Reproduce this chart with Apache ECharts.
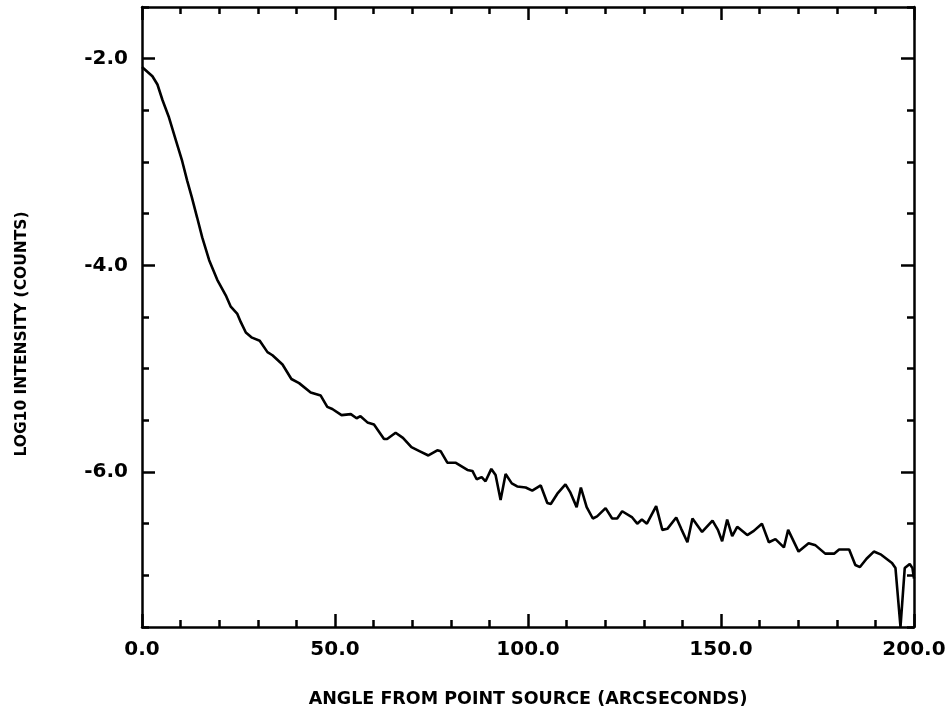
<!DOCTYPE html>
<html>
<head>
<meta charset="utf-8">
<script src="https://cdn.jsdelivr.net/npm/echarts@6/dist/echarts.min.js"></script>
<style>
    html, body { margin: 0; padding: 0; background: #fff; }
    #main { width: 952px; height: 711px; }
</style>
</head>
<body>
<div id="main"></div>
<script>
// angle from point source (arcsec) and log10 intensity
var angles = [
    0, 2.7, 4.0, 5.3, 7.0, 8.7, 10.4, 11.7, 12.9, 14.3,
    15.6, 17.4, 19.5, 21.7, 23.0, 24.7, 25.6, 26.9, 28.5, 30.5,
    32.5, 33.8, 36.4, 38.7, 40.7, 43.7, 46.3, 48.0, 49.3, 51.7,
    54.1, 55.6, 56.6, 58.4, 60.1, 62.7, 63.5, 65.7, 67.6, 69.8,
    72.0, 74.2, 76.5, 77.4, 79.1, 81.2, 84.3, 85.6, 86.7, 88.0,
    89.0, 90.5, 91.6, 92.9, 94.2, 95.8, 97.2, 99.4, 101.1, 103.3,
    105.0, 105.9, 107.6, 109.7, 111.0, 112.6, 113.7, 115.2, 116.8, 117.9,
    120.1, 121.8, 123.1, 124.4, 127.0, 128.3, 129.5, 130.8, 133.2, 134.8,
    136.1, 138.4, 139.7, 141.3, 142.6, 145.1, 147.8, 149.2, 150.3, 151.6,
    152.9, 154.2, 156.8, 158.5, 160.6, 162.4, 164.1, 166.3, 167.4, 170.1,
    172.7, 174.5, 177.0, 179.3, 180.6, 183.2, 184.8, 186.0, 187.7, 189.6,
    191.5, 194.3, 195.2, 196.5, 197.6, 198.9, 199.6, 200.0
];
var logIntensity = [
    -2.08, -2.17, -2.25, -2.40, -2.57, -2.78, -2.99, -3.18, -3.34, -3.54,
    -3.73, -3.95, -4.14, -4.29, -4.40, -4.47, -4.55, -4.65, -4.70, -4.73,
    -4.84, -4.87, -4.96, -5.10, -5.14, -5.23, -5.26, -5.37, -5.39, -5.45,
    -5.44, -5.48, -5.46, -5.52, -5.54, -5.68, -5.68, -5.62, -5.67, -5.76,
    -5.80, -5.84, -5.79, -5.80, -5.91, -5.91, -5.98, -5.99, -6.07, -6.05,
    -6.09, -5.97, -6.03, -6.27, -6.02, -6.11, -6.14, -6.15, -6.18, -6.13,
    -6.30, -6.31, -6.21, -6.12, -6.20, -6.34, -6.15, -6.34, -6.45, -6.43,
    -6.35, -6.45, -6.45, -6.38, -6.44, -6.50, -6.46, -6.50, -6.33, -6.56,
    -6.55, -6.44, -6.55, -6.68, -6.45, -6.58, -6.47, -6.56, -6.67, -6.46,
    -6.62, -6.53, -6.61, -6.57, -6.50, -6.68, -6.65, -6.73, -6.56, -6.77,
    -6.69, -6.71, -6.79, -6.79, -6.75, -6.75, -6.90, -6.92, -6.84, -6.77,
    -6.80, -6.88, -6.93, -7.50, -6.93, -6.89, -6.93, -7.03
];
var yLabelValues = [-6, -4, -2];

var myChart = echarts.init(document.getElementById('main'));

var labelFont = {
    color: '#000',
    fontFamily: 'DejaVu Sans',
    fontWeight: 'bold',
    fontSize: 20
};
var lineStyle = { color: '#000', width: 2.5 };

function xAxisOf(pos, withLabels) {
    return {
        type: 'value',
        position: pos,
        min: 0,
        max: 200,
        interval: 50,
        axisLine: { show: true, lineStyle: lineStyle },
        axisTick: { show: true, inside: true, length: 13, lineStyle: { color: '#000', width: 2.5 } },
        minorTick: { show: true, splitNumber: 5, length: 7, lineStyle: { color: '#000', width: 2.5 } },
        splitLine: { show: false },
        axisLabel: Object.assign({
            show: withLabels,
            margin: 13,
            formatter: function (v) { return v.toFixed(1); }
        }, labelFont)
    };
}

function yAxisOf(pos, major, withLabels) {
    var ax = {
        type: 'value',
        position: pos,
        min: -7.5,
        max: -1.5,
        interval: 0.5,
        axisLine: { show: !major, lineStyle: lineStyle },
        axisTick: { show: true, inside: true, length: major ? 13 : 7, lineStyle: { color: '#000', width: 2.5 } },
        splitLine: { show: false },
        axisLabel: { show: false }
    };
    if (major) {
        ax.axisTick.customValues = yLabelValues;
    }
    if (withLabels) {
        ax.axisLabel = Object.assign({
            show: true,
            margin: 14,
            customValues: yLabelValues,
            formatter: function (v) { return v.toFixed(1); }
        }, labelFont);
        ax.name = 'LOG10 INTENSITY (COUNTS)';
        ax.nameLocation = 'middle';
        ax.nameGap = 112;
        ax.nameTextStyle = {
            color: '#000', fontFamily: 'DejaVu Sans', fontWeight: 'bold', fontSize: 15.5,
            padding: [0, 34, 0, 0]
        };
    }
    return ax;
}

var xBottom = xAxisOf('bottom', true);
xBottom.name = 'ANGLE FROM POINT SOURCE (ARCSECONDS)';
xBottom.nameLocation = 'middle';
xBottom.nameGap = 63;
xBottom.nameTextStyle = { color: '#000', fontFamily: 'DejaVu Sans', fontWeight: 'bold', fontSize: 17.5 };

var option = {
    backgroundColor: '#fff',
    animation: false,
    grid: { left: 142, right: 38, top: 7, bottom: 84, containLabel: false, outerBoundsMode: 'none' },
    xAxis: [xBottom, xAxisOf('top', false)],
    yAxis: [
        yAxisOf('left', false, true),
        yAxisOf('left', true, false),
        yAxisOf('right', false, false),
        yAxisOf('right', true, false)
    ],
    series: [
        {
            type: 'line',
            xAxisIndex: 0,
            yAxisIndex: 0,
            showSymbol: false,
            lineStyle: { color: '#000', width: 2.6 },
            data: angles.map(function (a, i) { return [a, logIntensity[i]]; })
        }
    ]
};
myChart.setOption(option);
window.addEventListener('resize', function () {
    myChart.resize();
});
</script>
</body>
</html>
